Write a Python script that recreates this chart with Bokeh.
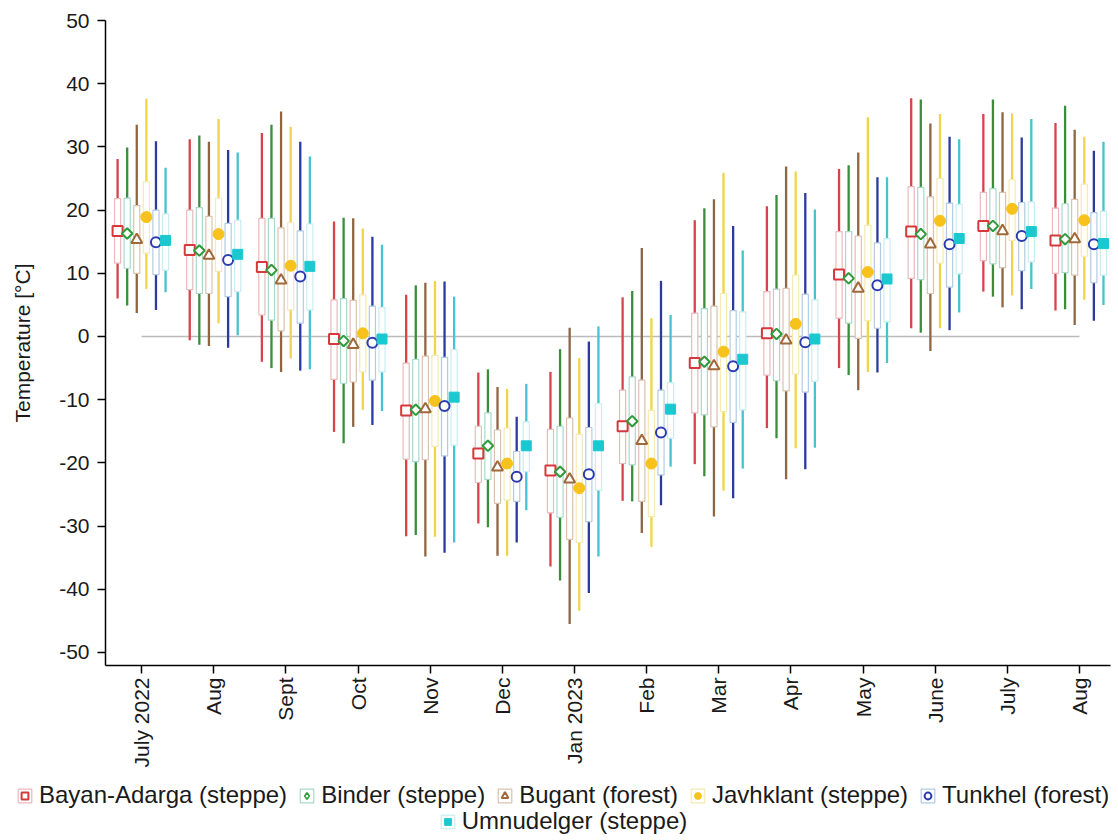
import math
from bokeh.plotting import figure
from bokeh.layouts import column
from bokeh.models import FixedTicker, Legend, LegendItem, ColumnDataSource, Range1d
from bokeh.embed import file_html
from bokeh.resources import INLINE

# ---------------- data ----------------
months = ["July 2022", "Aug", "Sept", "Oct", "Nov", "Dec", "Jan 2023",
          "Feb", "Mar", "Apr", "May", "June", "July", "Aug"]
y_ticks = [-50, -40, -30, -20, -10, 0, 10, 20, 30, 40, 50]

station_names = ["Bayan-Adarga (steppe)", "Binder (steppe)", "Bugant (forest)",
                 "Javhklant (steppe)", "Tunkhel (forest)", "Umnudelger (steppe)"]

bayan_max = [28.1, 31.2, 32.2, 18.2, 6.6, -5.7, -5.6, 6.2, 18.4, 20.6, 26.5, 37.7, 35.2, 33.8]
bayan_q3 = [21.8, 20.0, 18.7, 5.8, -4.2, -14.2, -14.7, -8.5, 3.7, 7.1, 16.6, 23.7, 22.8, 20.3]
bayan_mean = [16.7, 13.7, 11.0, -0.4, -11.7, -18.5, -21.2, -14.2, -4.2, 0.5, 9.8, 16.6, 17.5, 15.2]
bayan_q1 = [11.6, 7.4, 3.4, -6.8, -19.4, -23.1, -27.9, -20.1, -12.1, -6.1, 2.9, 9.2, 12.0, 10.0]
bayan_min = [6.0, -0.6, -4.0, -15.1, -31.6, -29.6, -36.4, -26.0, -20.2, -14.5, -5.0, 1.3, 7.1, 4.1]

binder_max = [29.9, 31.8, 33.5, 18.8, 8.1, -5.2, -2.0, 7.2, 20.3, 22.4, 27.1, 37.5, 37.5, 36.5]
binder_q3 = [21.9, 20.4, 18.7, 6.0, -3.6, -12.1, -14.2, -6.4, 4.4, 7.5, 16.6, 23.6, 23.4, 21.0]
binder_mean = [16.3, 13.6, 10.5, -0.7, -11.6, -17.3, -21.4, -13.4, -4.0, 0.4, 9.2, 16.2, 17.5, 15.4]
binder_q1 = [10.8, 6.8, 2.6, -7.4, -19.8, -22.6, -28.6, -20.3, -12.4, -7.0, 2.1, 9.0, 11.5, 10.1]
binder_min = [4.9, -1.3, -5.0, -16.9, -31.4, -30.2, -38.6, -26.1, -22.1, -16.1, -6.1, 0.6, 6.3, 4.3]

bugant_max = [33.5, 30.8, 35.6, 18.7, 8.5, -8.0, 1.4, 14.0, 21.7, 26.9, 29.1, 33.7, 35.5, 32.7]
bugant_q3 = [20.7, 19.0, 17.2, 5.7, -3.1, -14.8, -12.9, -6.9, 4.8, 7.6, 15.9, 22.1, 22.8, 21.7]
bugant_mean = [15.3, 12.8, 8.9, -1.3, -11.5, -20.7, -22.6, -16.5, -4.7, -0.6, 7.6, 14.6, 16.7, 15.4]
bugant_q1 = [10.0, 6.8, 0.9, -7.2, -19.5, -26.4, -32.1, -26.1, -14.3, -8.6, -0.3, 6.8, 10.9, 9.7]
bugant_min = [3.7, -1.5, -5.6, -14.3, -34.8, -34.7, -45.5, -31.1, -28.5, -22.6, -8.5, -2.3, 4.6, 1.8]

javh_max = [37.6, 34.4, 33.2, 17.1, 8.8, -8.3, -3.4, 2.9, 25.9, 26.1, 34.7, 35.2, 35.3, 31.6]
javh_q3 = [24.5, 21.9, 18.0, 6.6, -3.0, -14.5, -15.5, -11.7, 6.8, 9.7, 17.6, 25.0, 24.8, 24.1]
javh_mean = [18.9, 16.2, 11.2, 0.5, -10.2, -20.1, -24.0, -20.1, -2.4, 2.0, 10.2, 18.3, 20.2, 18.4]
javh_q1 = [13.2, 10.3, 4.2, -5.6, -17.4, -25.9, -32.6, -28.5, -11.9, -5.9, 2.5, 11.6, 15.2, 12.7]
javh_min = [7.5, 2.1, -3.5, -11.6, -31.7, -34.7, -43.4, -33.3, -24.4, -17.7, -5.6, 1.3, 6.5, 5.8]

tunk_max = [30.9, 29.5, 30.8, 15.8, 8.7, -12.7, -0.8, 8.8, 17.5, 22.7, 25.2, 31.6, 31.5, 29.4]
tunk_q3 = [20.0, 17.9, 16.7, 4.8, -3.3, -18.2, -14.4, -8.5, 4.1, 6.7, 14.8, 21.1, 21.2, 19.6]
tunk_mean = [14.9, 12.1, 9.5, -1.0, -11.0, -22.2, -21.8, -15.2, -4.7, -0.9, 8.1, 14.6, 15.9, 14.6]
tunk_q1 = [9.8, 6.3, 2.1, -6.9, -18.9, -26.1, -29.3, -21.9, -13.6, -8.8, 1.3, 7.8, 10.4, 8.5]
tunk_min = [4.2, -1.8, -5.4, -14.0, -34.2, -32.6, -40.6, -26.7, -25.6, -21.0, -5.7, 1.0, 4.3, 2.5]

umnu_max = [26.7, 29.1, 28.5, 14.5, 6.3, -7.5, 1.6, 3.4, 13.6, 20.1, 25.2, 31.2, 34.4, 30.8]
umnu_q3 = [19.4, 18.4, 17.8, 4.6, -2.1, -13.5, -10.6, -7.3, 3.9, 5.8, 15.5, 20.9, 21.3, 19.8]
umnu_mean = [15.2, 13.0, 11.1, -0.4, -9.6, -17.3, -17.3, -11.5, -3.6, -0.4, 9.1, 15.5, 16.6, 14.7]
umnu_q1 = [10.5, 7.1, 4.2, -5.6, -17.2, -21.4, -24.3, -16.1, -11.6, -7.1, 2.3, 9.9, 11.8, 9.7]
umnu_min = [7.0, 0.2, -5.2, -11.8, -32.6, -27.5, -34.8, -20.6, -20.9, -17.6, -4.2, 3.8, 7.5, 5.0]

series = [
    (bayan_min, bayan_q1, bayan_mean, bayan_q3, bayan_max),
    (binder_min, binder_q1, binder_mean, binder_q3, binder_max),
    (bugant_min, bugant_q1, bugant_mean, bugant_q3, bugant_max),
    (javh_min, javh_q1, javh_mean, javh_q3, javh_max),
    (tunk_min, tunk_q1, tunk_mean, tunk_q3, tunk_max),
    (umnu_min, umnu_q1, umnu_mean, umnu_q3, umnu_max),
]

# ---------------- styles ----------------
whisker_colors = ["#D8434A", "#3A8D3C", "#8F6542", "#F1D449", "#2B3A9C", "#47C2D0"]
box_colors = ["#EAB9BB", "#A9D9CB", "#D9C3AD", "#F5EAB4", "#B2CBE4", "#C9EDF1"]
marker_styles = [
    dict(marker="square", size=10, line_color="#D6383C", fill_color="white", line_width=2),
    dict(marker="square", size=7.5, angle=math.pi / 4, line_color="#2E9A3A", fill_color="white", line_width=2),
    dict(marker="triangle", size=11, line_color="#A0693A", fill_color="white", line_width=2),
    dict(marker="circle", size=11, line_color="#F7C21B", fill_color="#F7C21B", line_width=1),
    dict(marker="circle", size=10, line_color="#2B3BB0", fill_color="white", line_width=2),
    dict(marker="square", size=10, line_color="#1CC8D0", fill_color="#1CC8D0", line_width=1),
]
# legend icons (the legend draws markers without rotation, so use a true diamond there)
legend_marker_styles = [dict(s) for s in marker_styles]
legend_marker_styles[1] = dict(marker="diamond", size=12, line_color="#2E9A3A",
                               fill_color="white", line_width=1.6)

FONT = "Liberation Sans"
TXT = "#1a1a1a"
W = 1118
H_MAIN, H_LEG = 775, 65
LEFT, TOP, RIGHT = 105, 20, 8
FRAME_H = 645
STEP = 0.133          # offset between stations within a month (month units)
BOX_W = 0.085

p = figure(width=W, height=H_MAIN, output_backend="svg", toolbar_location=None,
           x_range=Range1d(-0.5, 13.43), y_range=Range1d(-52.06, 50),
           min_border_left=LEFT, min_border_top=TOP, min_border_right=RIGHT,
           min_border_bottom=H_MAIN - TOP - FRAME_H)
p.outline_line_color = None
p.grid.visible = False
p.frame_align = False

n = len(months)
# zero reference line
p.line(x=[0, n - 1], y=[0, 0], line_color="#BBBBBB", line_width=1.5)

sources = []
for i, (mn, q1, mean, q3, mx) in enumerate(series):
    xs = [m + (i - 2.5) * STEP for m in range(n)]
    src = ColumnDataSource(dict(x=xs, mn=mn, q1=q1, mean=mean, q3=q3, mx=mx))
    sources.append(src)
    p.segment(x0="x", y0="mn", x1="x", y1="mx", source=src,
              line_color=whisker_colors[i], line_width=2.3)
    p.vbar(x="x", width=BOX_W, bottom="q1", top="q3", source=src,
           fill_color="white", line_color=box_colors[i], line_width=1.2)
for i, src in enumerate(sources):
    p.scatter(x="x", y="mean", source=src, **marker_styles[i])

# axes
p.yaxis.ticker = FixedTicker(ticks=y_ticks)
p.yaxis.major_label_overrides = {t: str(t) for t in y_ticks}
p.yaxis.axis_label = "Temperature [°C]"
p.yaxis.axis_label_text_font = FONT
p.yaxis.axis_label_text_font_style = "normal"
p.yaxis.axis_label_text_font_size = "21px"
p.yaxis.axis_label_text_color = TXT
p.yaxis.axis_label_standoff = 22
p.xaxis.ticker = FixedTicker(ticks=list(range(n)))
p.xaxis.major_label_overrides = {i: m for i, m in enumerate(months)}
p.xaxis.major_label_orientation = math.pi / 2
for ax in (p.xaxis, p.yaxis):
    ax.axis_line_color = "black"
    ax.axis_line_width = 1.5
    ax.major_tick_line_color = "black"
    ax.major_tick_line_width = 1.5
    ax.major_tick_out = 8
    ax.major_tick_in = 0
    ax.minor_tick_line_color = None
    ax.major_label_text_font = FONT
    ax.major_label_text_font_size = "21px"
    ax.major_label_text_color = TXT
p.yaxis.major_label_standoff = 8
p.xaxis.major_label_standoff = 4

# ---------------- legend strip (separate figure, same sources, out of view) ----------------
lf = figure(width=W, height=H_LEG, output_backend="svg", toolbar_location=None,
            x_range=Range1d(-0.5, 13.43), y_range=Range1d(1000, 1001),
            x_axis_type=None, y_axis_type=None, min_border=0)
lf.outline_line_color = None
lf.grid.visible = False
lf.frame_align = False

box_r, mark_r = [], []
for i, src in enumerate(sources):
    box_r.append(lf.vbar(x="x", width=BOX_W, bottom="q1", top="q3", source=src,
                         fill_color="white", line_color=box_colors[i], line_width=1.2))
for i, src in enumerate(sources):
    mark_r.append(lf.scatter(x="x", y="mean", source=src, **legend_marker_styles[i]))

ARIAL = {' ': 278, '(': 333, ')': 333, '-': 333, 'A': 667, 'B': 667, 'J': 500, 'T': 611,
         'U': 722, 'a': 556, 'd': 556, 'e': 556, 'f': 278, 'g': 556, 'h': 556, 'i': 222,
         'k': 500, 'l': 222, 'm': 833, 'n': 556, 'o': 556, 'p': 556, 'r': 333, 's': 500,
         't': 278, 'u': 556, 'v': 500, 'y': 500}
LFS, GW, STAND, SPACE, LH = 24, 17, 6, 11, 26


def legend_w(labels):
    return sum(GW + STAND + sum(ARIAL.get(c, 556) for c in l) / 1000 * LFS for l in labels) \
        + SPACE * (len(labels) - 1)


CENTER_X = 563
rows = [list(range(5)), [5]]
row_centers_from_top = [21, 47]
for row, cy in zip(rows, row_centers_from_top):
    items = [LegendItem(label=station_names[i], renderers=[box_r[i], mark_r[i]]) for i in row]
    lw = legend_w([station_names[i] for i in row])
    leg = Legend(items=items, orientation="horizontal",
                 location=(CENTER_X - lw / 2, H_LEG - cy - LH / 2),
                 glyph_width=GW, glyph_height=GW, label_standoff=STAND, spacing=SPACE,
                 padding=0, margin=0, label_height=LH,
                 label_text_font=FONT, label_text_font_size=f"{LFS}px", label_text_color=TXT,
                 border_line_color=None, background_fill_alpha=0)
    lf.add_layout(leg)

open("out.html", "w").write(file_html(column(p, lf), INLINE))
